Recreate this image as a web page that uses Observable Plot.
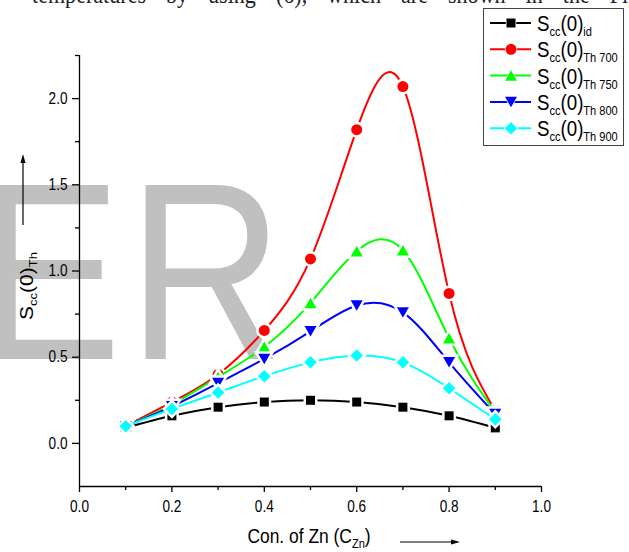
<!DOCTYPE html>
<html><head><meta charset="utf-8">
<script src="https://cdn.jsdelivr.net/npm/d3@7"></script>
<script src="https://cdn.jsdelivr.net/npm/@observablehq/plot@0.6"></script>
<style>
html,body{margin:0;padding:0;background:#fff;}
#wrap{position:relative;width:629px;height:552px;overflow:hidden;background:#fff;font-family:"Liberation Sans",Arial,sans-serif;}
#wrap > svg{position:absolute;left:0;top:0;}
</style></head><body><div id="wrap"></div>
<script>
// ---- data ----
const concZn = [0.1, 0.2, 0.3, 0.4, 0.5, 0.6, 0.7, 0.8, 0.9];
const seriesNames = ["id", "Th 700", "Th 750", "Th 800", "Th 900"];
const sccId    = [0.09, 0.16, 0.21, 0.24, 0.25, 0.24, 0.21, 0.16, 0.09];
const sccTh700 = [0.10, 0.24, 0.40, 0.655, 1.07, 1.82, 2.07, 0.87, 0.19];
const sccTh750 = [0.10, 0.225, 0.385, 0.56, 0.815, 1.115, 1.12, 0.61, 0.18];
const sccTh800 = [0.10, 0.215, 0.35, 0.49, 0.65, 0.80, 0.76, 0.47, 0.17];
const sccTh900 = [0.10, 0.20, 0.295, 0.39, 0.47, 0.51, 0.47, 0.32, 0.14];
const seriesValues = [sccId, sccTh700, sccTh750, sccTh800, sccTh900];
const seriesColors = ["#000000", "#ff0000", "#00ff00", "#0000ff", "#00ffff"];
const seriesShapes = ["square", "circle", "up", "down", "diamond"];
const xTicks = [0, 0.2, 0.4, 0.6, 0.8, 1.0];
const xMinorTicks = [0.1, 0.3, 0.5, 0.7, 0.9];
const yTicks = [0, 0.5, 1.0, 1.5, 2.0];
const yMinorTicks = [0.25, 0.75, 1.25, 1.75, 2.25];

const rows = [];
seriesNames.forEach((name, s) => concZn.forEach((c, i) => rows.push({series: name, c, v: seriesValues[s][i]})));

function drawShape(ctx, kind, r) {
  if (kind === "square") { const h = 0.9 * r; ctx.moveTo(-h, -h); ctx.lineTo(h, -h); ctx.lineTo(h, h); ctx.lineTo(-h, h); ctx.closePath(); }
  else if (kind === "circle") { const c = 1.1 * r; ctx.moveTo(c, 0); ctx.arc(0, 0, c, 0, 2 * Math.PI); ctx.closePath(); }
  else if (kind === "up") { const w = 1.2 * r, h = 1.05 * r; ctx.moveTo(0, -h); ctx.lineTo(w, h); ctx.lineTo(-w, h); ctx.closePath(); }
  else if (kind === "down") { const w = 1.2 * r, h = 1.05 * r; ctx.moveTo(0, h); ctx.lineTo(w, -h); ctx.lineTo(-w, -h); ctx.closePath(); }
  else if (kind === "diamond") { const d = 1.25 * r; ctx.moveTo(0, -d); ctx.lineTo(d, 0); ctx.lineTo(0, d); ctx.lineTo(-d, 0); ctx.closePath(); }
}
function makeSymbol(kind) { return {draw(ctx, size) { drawShape(ctx, kind, Math.sqrt(size / Math.PI)); }}; }

const marks = [
  Plot.ruleX([0], {stroke: "black", strokeWidth: 1.3}),
  Plot.ruleY([-0.25], {stroke: "black", strokeWidth: 1.3}),
  Plot.axisX({ticks: xTicks, tickSize: 6, tickPadding: 8, tickFormat: d3.format(".1f"), fontSize: 16, strokeWidth: 1.3, label: null}),
  Plot.axisX({ticks: xMinorTicks, tickSize: 4, tickFormat: () => "", strokeWidth: 1.3, label: null}),
  Plot.axisY({ticks: yTicks, tickSize: 7, tickPadding: 5, tickFormat: d3.format(".1f"), fontSize: 16, strokeWidth: 1.3, label: null}),
  Plot.axisY({ticks: yMinorTicks, tickSize: 4, tickFormat: () => "", strokeWidth: 1.3, label: null})
];
seriesNames.forEach((name, s) => {
  const d = rows.filter(r => r.series === name);
  marks.push(Plot.line(d, {x: "c", y: "v", stroke: seriesColors[s], strokeWidth: 2, curve: "natural"}));
  marks.push(Plot.dot(d, {x: "c", y: "v", r: 5, symbol: makeSymbol(seriesShapes[s]), fill: seriesColors[s], stroke: "white", strokeWidth: 5, paintOrder: "stroke"}));
});

const chart = Plot.plot({
  width: 629, height: 552,
  marginLeft: 79, marginRight: 88, marginTop: 55, marginBottom: 66,
  x: {domain: [0, 1]},
  y: {domain: [-0.25, 2.25]},
  style: {fontFamily: "'Liberation Sans', Arial, sans-serif", fontSize: "16px", background: "transparent", color: "black", overflow: "visible"},
  marks
});
// horizontal squeeze of the tick labels, as in the reference picture
chart.querySelectorAll("text").forEach(t => {
  const tr = t.getAttribute("transform") || "";
  t.setAttribute("transform", `${tr} scale(0.85,1)`);
});

const wrap = document.getElementById("wrap");
const NS = "http://www.w3.org/2000/svg";

// ---- underlay: watermark and cut-off text ----
const under = document.createElementNS(NS, "svg");
under.setAttribute("width", 629); under.setAttribute("height", 552);
under.innerHTML = `
  <text transform="translate(-22,359) scale(0.85,1)" font-family="'Liberation Sans', Arial, sans-serif" font-size="253" fill="#c0c0c0">E</text>
  <text transform="translate(128,359) scale(0.85,1)" font-family="'Liberation Sans', Arial, sans-serif" font-size="253" fill="#c0c0c0">R</text>
  <text transform="translate(32,3) scale(0.85,1)" font-family="'Liberation Serif', 'Times New Roman', serif" font-size="26" word-spacing="17" fill="#222">temperatures by using (6), which are shown in the Fig.</text>`;
wrap.appendChild(under);
wrap.appendChild(chart);

// ---- overlay: axis titles, arrows, legend ----
const over = document.createElementNS(NS, "svg");
over.setAttribute("width", 629); over.setAttribute("height", 552);
let html = `
  <g transform="translate(309,543) scale(0.85,1)"><text text-anchor="middle" font-size="20.5">Con. of Zn (C<tspan font-size="13" dy="5">Zn</tspan><tspan font-size="20.5" dy="-5">)</tspan></text></g>
  <line x1="400" y1="542" x2="452" y2="542" stroke="black" stroke-width="1.2"/>
  <path d="M460,542 L451,539.5 L451,544.5 Z" fill="black"/>
  <g transform="translate(33,286) scale(0.85,1) rotate(-90)"><text text-anchor="middle" font-size="21">S<tspan font-size="13" dy="5">cc</tspan><tspan font-size="21" dy="-5">(0)</tspan><tspan font-size="13" dy="5">Th</tspan></text></g>
  <line x1="23" y1="225" x2="23" y2="162" stroke="black" stroke-width="1.2"/>
  <path d="M23,154 L20.5,163 L25.5,163 Z" fill="black"/>
  <rect x="483.5" y="8.5" width="140" height="137" fill="white" stroke="#444" stroke-width="1"/>`;
seriesNames.forEach((name, s) => {
  const cy = 23 + s * 26.3;
  const p = d3.path(); drawShape(p, seriesShapes[s], 5);
  html += `<line x1="490" y1="${cy}" x2="531" y2="${cy}" stroke="${seriesColors[s]}" stroke-width="2"/>
  <path transform="translate(511,${cy})" d="${p.toString()}" fill="${seriesColors[s]}" stroke="white" stroke-width="1.5" paint-order="stroke"/>
  <g transform="translate(537,${cy + 8}) scale(0.85,1)"><text font-size="22">S<tspan font-size="13" dy="5">cc</tspan><tspan font-size="22" dy="-5">(0)</tspan><tspan font-size="13" dy="5">${name}</tspan></text></g>`;
});
over.innerHTML = html;
wrap.appendChild(over);
</script>
</body></html>
